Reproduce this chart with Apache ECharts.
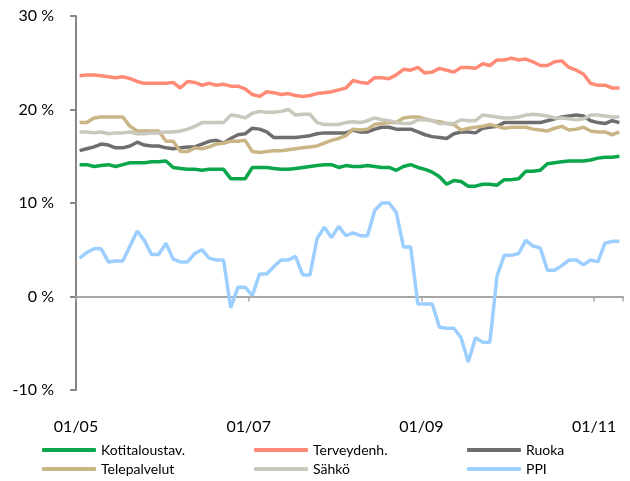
<!DOCTYPE html>
<html>
<head>
<meta charset="utf-8">
<script src="https://cdn.jsdelivr.net/npm/echarts@6/dist/echarts.min.js"></script>
<style>
html,body{margin:0;padding:0;background:#fff;}
#c{width:630px;height:481px;}
</style>
</head>
<body>
<div id="c"></div>
<script>
// Monthly categories Jan 2005 .. Apr 2011
const months = [];
for (let y = 2005; y <= 2011; y++) {
  for (let m = 1; m <= 12; m++) {
    if (y === 2011 && m > 4) break;
    months.push((m < 10 ? '0' + m : '' + m) + '/' + String(y).slice(2));
  }
}
const tickLabels = ['01/05', '01/07', '01/09', '01/11'];
const seriesNames = ['Kotitaloustav.', 'Terveydenh.', 'Ruoka', 'Telepalvelut', 'Sähkö', 'PPI'];

const kotitaloustav = [14.1, 14.1, 13.9, 14.0, 14.1, 13.9, 14.1, 14.3, 14.3, 14.3, 14.4, 14.4, 14.5, 13.8, 13.7, 13.6, 13.6, 13.5, 13.6, 13.6, 13.6, 12.6, 12.6, 12.6, 13.8, 13.8,
  13.8, 13.7, 13.6, 13.6, 13.7, 13.8, 13.9, 14.0, 14.1, 14.1, 13.8, 14.0, 13.9, 13.9, 14.0, 13.9, 13.8, 13.8, 13.5, 13.9, 14.1, 13.8, 13.6, 13.3, 12.8,
  12.0, 12.4, 12.3, 11.8, 11.8, 12.0, 12.0, 11.9, 12.5, 12.5, 12.6, 13.4, 13.4, 13.5, 14.2, 14.3, 14.4, 14.5, 14.5, 14.5, 14.6, 14.8, 14.9, 14.9, 15.0];
const terveydenh = [23.6, 23.7, 23.7, 23.6, 23.5, 23.4, 23.5, 23.3, 23.0, 22.8, 22.8, 22.8, 22.8, 22.9, 22.3, 23.0, 22.9, 22.6, 22.8, 22.6, 22.7, 22.5, 22.5, 22.2, 21.6, 21.4,
  21.9, 21.8, 21.6, 21.7, 21.5, 21.4, 21.5, 21.7, 21.8, 21.9, 22.1, 22.3, 23.1, 22.9, 22.8, 23.4, 23.4, 23.3, 23.7, 24.3, 24.2, 24.5, 23.9, 24.0, 24.4,
  24.2, 24.0, 24.5, 24.5, 24.4, 24.9, 24.7, 25.3, 25.3, 25.5, 25.3, 25.4, 25.1, 24.7, 24.7, 25.1, 25.2, 24.5, 24.2, 23.8, 22.8, 22.6, 22.6, 22.3, 22.3];
const ruoka = [15.6, 15.8, 16.0, 16.3, 16.2, 15.9, 15.9, 16.1, 16.5, 16.2, 16.1, 16.1, 15.9, 15.8, 15.9, 16.0, 16.0, 16.3, 16.6, 16.7, 16.4, 16.9, 17.3, 17.4, 18.0, 17.9,
  17.6, 17.0, 17.0, 17.0, 17.0, 17.1, 17.2, 17.4, 17.5, 17.5, 17.5, 17.5, 17.8, 17.6, 17.6, 17.9, 18.1, 18.1, 17.9, 17.9, 17.9, 17.6, 17.3, 17.1, 17.0,
  16.9, 17.4, 17.6, 17.6, 17.5, 18.0, 18.1, 18.2, 18.6, 18.6, 18.6, 18.6, 18.6, 18.6, 18.8, 19.0, 19.2, 19.3, 19.4, 19.3, 18.8, 18.6, 18.5, 18.8, 18.6];
const telepalvelut = [18.6, 18.6, 19.1, 19.2, 19.2, 19.2, 19.2, 18.2, 17.7, 17.7, 17.7, 17.7, 16.6, 16.6, 15.5, 15.5, 15.9, 15.8, 16.0, 16.3, 16.4, 16.6, 16.6, 16.7, 15.5, 15.4,
  15.5, 15.6, 15.6, 15.7, 15.8, 15.9, 16.0, 16.1, 16.4, 16.7, 16.9, 17.2, 17.9, 17.8, 17.9, 18.4, 18.5, 18.6, 18.6, 19.1, 19.2, 19.2, 19.0, 18.8, 18.7,
  18.5, 18.4, 17.8, 18.0, 18.1, 18.2, 18.4, 18.2, 18.0, 18.1, 18.1, 18.1, 17.9, 17.8, 17.7, 18.0, 18.2, 17.8, 17.9, 18.1, 17.7, 17.6, 17.6, 17.3, 17.6];
const sahko = [17.6, 17.6, 17.5, 17.6, 17.4, 17.5, 17.5, 17.6, 17.4, 17.4, 17.5, 17.5, 17.6, 17.6, 17.7, 17.9, 18.2, 18.6, 18.6, 18.6, 18.6, 19.4, 19.3, 19.1, 19.6, 19.8,
  19.7, 19.7, 19.8, 20.0, 19.4, 19.5, 19.5, 18.6, 18.4, 18.4, 18.4, 18.6, 18.7, 18.6, 18.8, 19.1, 18.9, 18.8, 18.6, 18.5, 18.5, 18.9, 18.9, 18.8, 18.5,
  18.5, 18.5, 18.9, 18.8, 18.8, 19.4, 19.3, 19.2, 19.1, 19.1, 19.2, 19.4, 19.5, 19.4, 19.3, 19.1, 19.1, 19.0, 18.9, 19.0, 19.4, 19.4, 19.3, 19.2, 19.2];
const ppi = [4.1, 4.7, 5.1, 5.1, 3.7, 3.8, 3.8, 5.4, 7.0, 6.0, 4.5, 4.5, 5.7, 4.0, 3.7, 3.7, 4.6, 5.0, 4.1, 3.9, 3.9, -1.2, 1.0, 1.0, 0.1, 2.4, 2.4, 3.2, 3.9, 3.9, 4.3, 2.3, 2.3, 6.2, 7.4, 6.3, 7.5,
  6.5, 6.8, 6.5, 6.5, 9.2, 10.0, 10.0, 9.0, 5.3, 5.3, -0.8, -0.8, -0.8, -3.3, -3.4, -3.4, -4.4, -7.0, -4.4, -4.9, -4.9, 2.2, 4.4, 4.4, 4.6, 6.0, 5.4, 5.2, 2.8, 2.8, 3.3, 3.9, 3.9, 3.4, 3.9, 3.7, 5.7, 5.9, 5.9];

const colors = ['#0aa64b', '#ff8b77', '#6e6e6e', '#c9b585', '#c8c8bd', '#9ccfff'];
const allData = [kotitaloustav, terveydenh, ruoka, telepalvelut, sahko, ppi];

// points sit mid-month on a month-index scale
const toPoints = arr => arr.map((v, i) => [i + 0.5, v]);
const FONT = 'Lato';

const chart = echarts.init(document.getElementById('c'), null, {renderer: 'canvas'});
const legendBase = {
  orient: 'vertical', top: 442, padding: 0, itemWidth: 54, itemHeight: 4, itemGap: 3,
  icon: 'roundRect',
  textStyle: {fontFamily: FONT, fontSize: 14, color: '#000', lineHeight: 16}
};
chart.setOption({
  animation: false,
  backgroundColor: '#fff',
  color: colors,
  grid: {left: 76, right: 7, top: 16, bottom: 91, containLabel: false},
  legend: [
    Object.assign({}, legendBase, {left: 42, data: [seriesNames[0], seriesNames[3]]}),
    Object.assign({}, legendBase, {left: 254, data: [seriesNames[1], seriesNames[4]]}),
    Object.assign({}, legendBase, {left: 467, data: [seriesNames[2], seriesNames[5]]})
  ],
  xAxis: [
    {
      type: 'value', min: 0, max: months.length, interval: 24,
      axisLine: {onZero: true, lineStyle: {color: '#a6a6a6', width: 2}},
      axisTick: {show: true, length: 5, lineStyle: {color: '#a6a6a6', width: 1.5}},
      axisLabel: {show: false},
      splitLine: {show: false}
    },
    {
      type: 'value', min: 0, max: months.length, interval: 24, position: 'bottom',
      axisLine: {show: false, onZero: false},
      axisTick: {show: false},
      splitLine: {show: false},
      axisLabel: {
        margin: 29, fontFamily: FONT, fontSize: 16, color: '#000',
        showMaxLabel: false,
        formatter: v => (v % 24 === 0 ? tickLabels[v / 24] : '')
      }
    }
  ],
  yAxis: {
    type: 'value', min: -10, max: 30, interval: 10,
    axisLine: {show: true, lineStyle: {color: '#868686', width: 2}},
    axisTick: {show: true, length: 6, lineStyle: {color: '#868686', width: 2}},
    splitLine: {show: false},
    axisLabel: {margin: 22, fontFamily: FONT, fontSize: 16, color: '#000', formatter: '{value} %'}
  },
  series: seriesNames.map((name, k) => ({
    name: name, type: 'line', xAxisIndex: 0,
    data: toPoints(allData[k]),
    showSymbol: false, symbol: 'none',
    lineStyle: {width: 3.5, color: colors[k]},
    itemStyle: {color: colors[k]},
    z: 2 + k
  }))
});
</script>
</body>
</html>
